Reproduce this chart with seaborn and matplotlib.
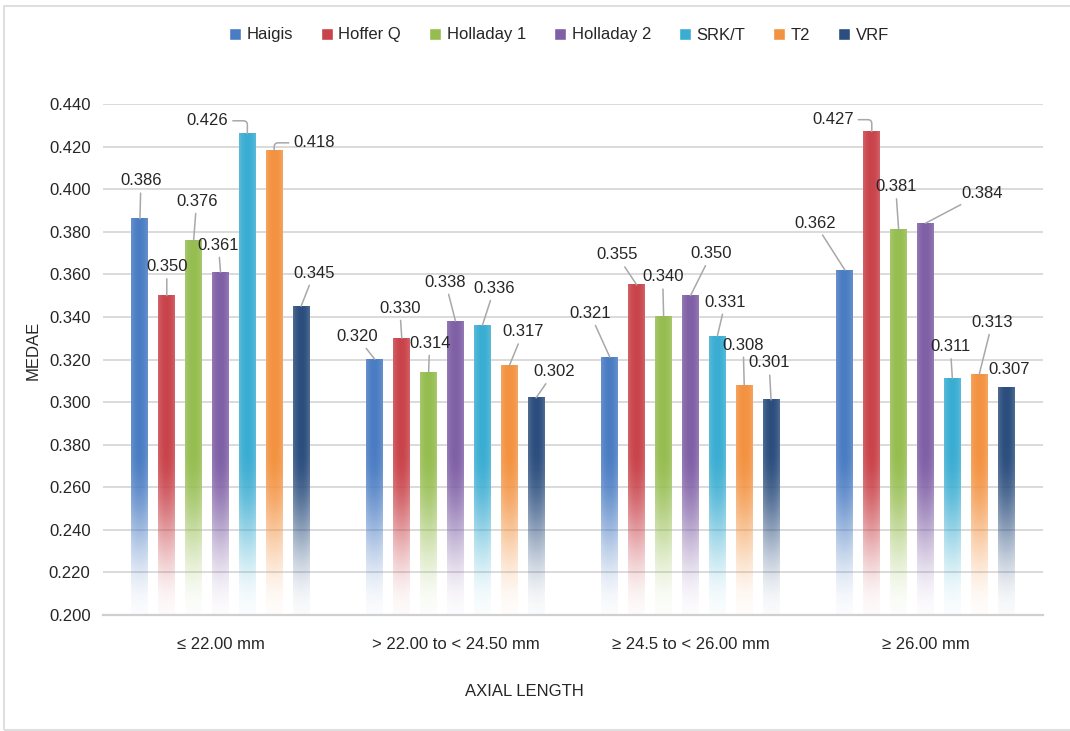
import numpy as np
import pandas as pd
import matplotlib
matplotlib.use("Agg")
import matplotlib.pyplot as plt
from matplotlib.colors import to_rgb
from matplotlib.patches import Rectangle
import seaborn as sns

# ---- data -------------------------------------------------------------
groups = ["\u2264 22.00 mm", "> 22.00 to < 24.50 mm",
          "\u2265 24.5 to < 26.00 mm", "\u2265 26.00 mm"]
formulas = ["Haigis", "Hoffer Q", "Holladay 1", "Holladay 2", "SRK/T", "T2", "VRF"]

haigis     = [0.386, 0.320, 0.321, 0.362]
hoffer_q   = [0.350, 0.330, 0.355, 0.427]
holladay_1 = [0.376, 0.314, 0.340, 0.381]
holladay_2 = [0.361, 0.338, 0.350, 0.384]
srk_t      = [0.426, 0.336, 0.331, 0.311]
t2         = [0.418, 0.317, 0.308, 0.313]
vrf        = [0.345, 0.302, 0.301, 0.307]

y_ticks = [0.200, 0.220, 0.240, 0.260, 0.280, 0.300, 0.320,
           0.340, 0.360, 0.380, 0.400, 0.420, 0.440]
y_tick_labels = ["0.200", "0.220", "0.240", "0.260", "0.380", "0.300", "0.320",
                 "0.340", "0.360", "0.380", "0.400", "0.420", "0.440"]

series = [haigis, hoffer_q, holladay_1, holladay_2, srk_t, t2, vrf]
df = pd.DataFrame(
    [(g, f, v) for f, vals in zip(formulas, series) for g, v in zip(groups, vals)],
    columns=["group", "formula", "value"],
)

# ---- styling ----------------------------------------------------------
colors = ["#4a7cc3", "#c9434a", "#95bd4f", "#7f5fa6", "#3aadd2", "#f39240", "#2b4e7e"]
text_color = "#262626"

# label placement (pixel offsets from each bar top), per group then formula
label_offsets = [
    [(1, 38), (0, 29), (3, 39), (-2, 27), (-40, 13), (40, 8), (13, 33)],
    [(-18, 23), (-2, 30), (1, 29), (-10, 39), (12, 37), (14, 34), (18, 26)],
    [(-20, 44), (-20, 30), (-1, 40), (21, 42), (8, 34), (-1, 40), (-2, 37)],
    [(-30, 47), (-39, 12), (-3, 43), (57, 30), (-2, 32), (13, 52), (3, 18)],
]
elbow_labels = {(0, 4): (1, 0.5), (0, 5): (0, 0.5), (3, 1): (1, 0.5)}
no_leader = {(3, 6)}

sns.set_theme(style="white")
plt.rcParams["font.family"] = ["Liberation Sans", "DejaVu Sans"]
plt.rcParams["text.color"] = text_color

W, H = 1070, 731
fig = plt.figure(figsize=(W / 100, H / 100), dpi=100)
ax = fig.add_axes([103 / W, 1 - 615 / H, (1043 - 103) / W, (615 - 104) / H])

sns.barplot(data=df, x="group", y="value", hue="formula", palette=colors,
            width=0.8, gap=0.37, ax=ax, errorbar=None, saturation=1)

ax.set_ylim(0.2, 0.44)
ax.set_xlim(-0.5, 3.5)
ax.set_yticks(y_ticks)
ax.set_yticklabels(y_tick_labels)
ax.tick_params(axis="both", length=0, labelsize=12, colors=text_color)
ax.tick_params(axis="y", pad=9)
ax.tick_params(axis="x", pad=16)
ax.set_xlabel("")
ax.set_ylabel("")
ax.yaxis.grid(True, color="#dadada", lw=1.4)
ax.set_axisbelow(True)
for side in ["left", "right", "top"]:
    ax.spines[side].set_visible(False)
ax.spines["bottom"].set_color("#cfcfcf")
ax.spines["bottom"].set_linewidth(1.6)

sns.move_legend(ax, "center", bbox_to_anchor=(559 / W, 1 - 35 / H),
                bbox_transform=fig.transFigure, ncol=7, frameon=False, title=None,
                fontsize=12, handlelength=0.7, handleheight=0.7,
                handletextpad=0.35, columnspacing=1.68)

# ---- bars with a soft fade towards the baseline ----------------------
slot = 0.8 / len(formulas)
bars = [p for p in ax.patches if p.get_height() > 0]
for p in bars:
    x0 = p.get_x()
    w = p.get_width()
    top = p.get_height()
    xc = x0 + w / 2
    g = int(round(xc))
    k = int(round((xc - g + 0.4) / slot - 0.5))
    rgb = np.array(to_rgb(p.get_facecolor()))

    n_y, n_x = 400, 24
    yy = np.linspace(0.2, top, n_y)
    t = np.clip((yy - 0.2) / 0.078, 0, 1)
    alpha = 0.03 + 0.97 * t * t * (3 - 2 * t)
    xx = np.linspace(-1, 1, n_x)
    light = 0.16 * xx ** 2
    img = np.zeros((n_y, n_x, 4))
    img[..., :3] = rgb[None, None, :] * (1 - light[None, :, None]) + light[None, :, None]
    img[..., 3] = alpha[:, None]
    ax.imshow(img, extent=[x0, x0 + w, 0.2, top], origin="lower",
              aspect="auto", interpolation="bilinear", zorder=2)
    p.set_visible(False)

    # value label with leader line
    dx, dy = label_offsets[g][k]
    arrow = None
    if (g, k) not in no_leader:
        arrow = dict(arrowstyle="-", color="#a8a8a8", lw=1.1, shrinkA=1, shrinkB=0)
        if (g, k) in elbow_labels:
            arrow["connectionstyle"] = "angle,angleA=0,angleB=90,rad=4"
            arrow["relpos"] = elbow_labels[(g, k)]
    ax.annotate(f"{top:.3f}", xy=(xc, top), xytext=(dx, dy),
                textcoords="offset pixels", ha="center", va="center",
                fontsize=12, color=text_color, arrowprops=arrow, zorder=4)

ax.set_xlim(-0.5, 3.5)
ax.set_ylim(0.2, 0.44)

fig.text(33 / W, 1 - 350 / H, "MEDAE", rotation=90, ha="center", va="center",
         fontsize=12, color=text_color)
fig.text(524 / W, 1 - 692 / H, "AXIAL LENGTH", ha="center", va="center",
         fontsize=12, color=text_color)

fig.add_artist(Rectangle((4 / W, 1 / H), 1.2, (729 - 5) / H, transform=fig.transFigure,
                         fill=False, ec="#dcdcdc", lw=1.3))

fig.savefig("out.png", dpi=100)
